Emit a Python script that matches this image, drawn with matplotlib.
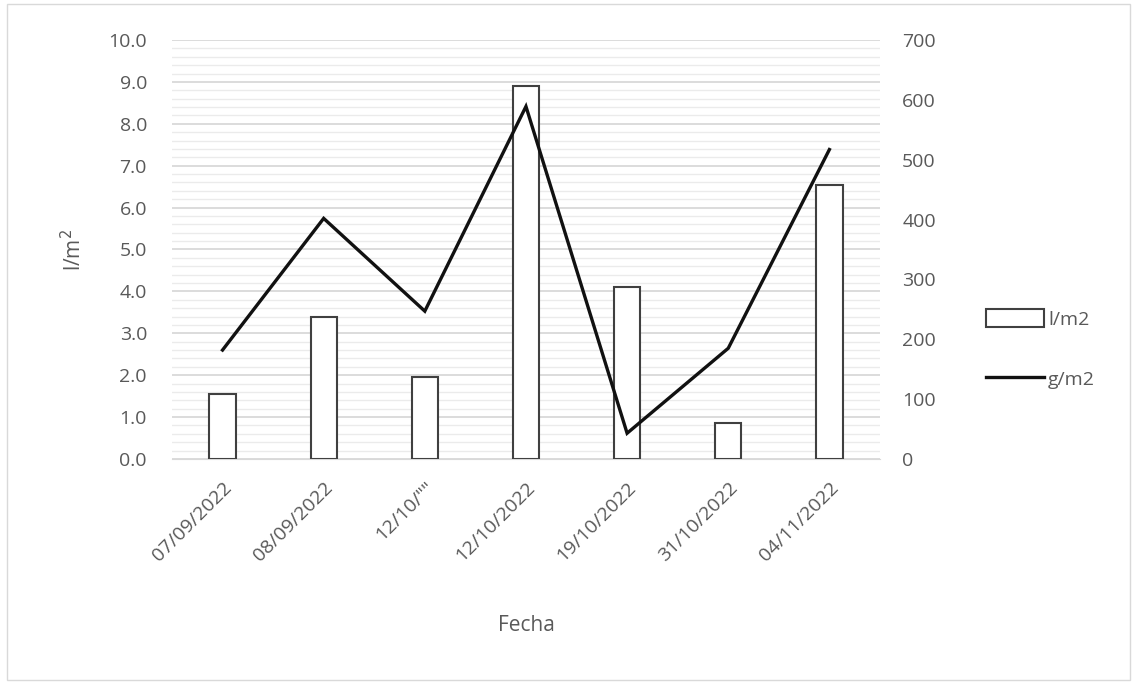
import matplotlib.pyplot as plt
from matplotlib.ticker import MultipleLocator
from matplotlib.patches import Rectangle

fechas = ['07/09/2022', '08/09/2022', '12/10/""', '12/10/2022',
          '19/10/2022', '31/10/2022', '04/11/2022']
l_m2 = [1.55, 3.4, 1.95, 8.9, 4.1, 0.85, 6.55]
g_m2 = [182, 402, 247, 589, 43, 185, 517]

txt = '#595959'
plt.rcParams['font.family'] = ['Open Sans', 'DejaVu Sans']

fig = plt.figure(figsize=(11.35, 6.83), dpi=100)
ax = fig.add_axes([0.1515, 0.328, 0.6238, 0.6134])
ax2 = ax.twinx()

x = range(len(fechas))
bars = ax.bar(x, l_m2, width=0.26, color='white', edgecolor='#404040',
              linewidth=1.5, label='l/m2', zorder=3)
line, = ax2.plot(x, g_m2, color='#111111', linewidth=2.4, label='g/m2',
                 solid_joinstyle='miter', zorder=4)

ax.set_xlim(-0.5, len(fechas) - 0.5)
ax.set_ylim(0, 10)
ax2.set_ylim(0, 700)
ax.yaxis.set_major_locator(MultipleLocator(1))
ax.yaxis.set_minor_locator(MultipleLocator(0.2))
ax2.yaxis.set_major_locator(MultipleLocator(100))
ax.set_yticklabels([f'{v:.1f}' for v in ax.get_yticks()])

ax.grid(axis='y', which='major', color='#d9d9d9', linewidth=1.3, zorder=0)
ax.grid(axis='y', which='minor', color='#ebebeb', linewidth=1.0, zorder=0)
ax.set_axisbelow(True)

for a in (ax, ax2):
    for s in a.spines.values():
        s.set_visible(False)
    a.tick_params(length=0, colors=txt, labelsize=14)
ax.tick_params(which='minor', length=0)
ax.tick_params(axis='y', pad=18)
ax2.tick_params(axis='y', pad=16)
ax.spines['bottom'].set_visible(True)
ax.spines['bottom'].set_color('#d9d9d9')

ax.set_xticks(list(x))
ax.set_xticklabels(fechas, rotation=45, ha='right', rotation_mode='anchor')
ax.tick_params(axis='x', pad=14)

ax.set_ylabel('l/m$^2$', color=txt, fontsize=15, labelpad=16)
ax.set_xlabel('Fecha', color=txt, fontsize=15, labelpad=36)

fig.legend([bars, line], ['l/m2', 'g/m2'], loc='center left',
           bbox_to_anchor=(0.853, 0.489), frameon=False, fontsize=14,
           labelcolor=txt, handlelength=3.0, handleheight=1.0,
           handletextpad=0.2, labelspacing=2.1)

fig.patches.append(Rectangle((0.006, 0.004), 0.99, 0.99, transform=fig.transFigure,
                             fill=False, edgecolor='#d9d9d9', linewidth=1))

fig.savefig('out.png', dpi=100)
